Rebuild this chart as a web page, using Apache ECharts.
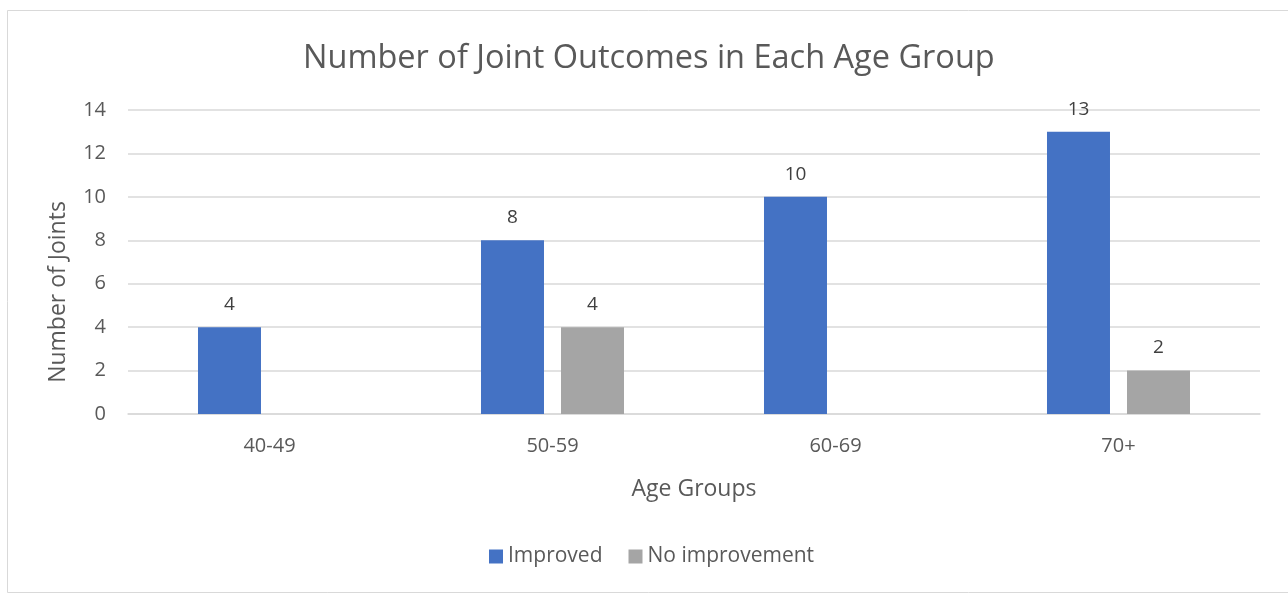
<!DOCTYPE html>
<html>
<head>
<meta charset="utf-8">
<script src="https://cdn.jsdelivr.net/npm/echarts@6/dist/echarts.min.js"></script>
<style>
  html, body { margin: 0; padding: 0; background: #ffffff; }
  #chart { width: 1288px; height: 594px; }
</style>
</head>
<body>
<div id="chart"></div>
<script>
// Age groups on the category axis
const ageGroups = ['40-49', '50-59', '60-69', '70+'];
// Joint counts per outcome (null where there is no bar)
const improved = [4, 8, 10, 13];
const noImprovement = [null, 4, null, 2];
// Value axis range
const yMin = 0, yMax = 14, yStep = 2;

const FONT = '"Open Sans", "Noto Sans", sans-serif';
const TEXT = '#595959';

const chart = echarts.init(document.getElementById('chart'), null, { renderer: 'canvas' });

chart.setOption({
  backgroundColor: '#ffffff',
  animation: false,
  title: {
    text: 'Number of Joint Outcomes in Each Age Group',
    left: 298,
    top: 37,
    textStyle: { fontFamily: FONT, fontSize: 32.5, fontWeight: 'normal', color: TEXT }
  },
  graphic: [{
    type: 'rect',
    silent: true,
    shape: { x: 7.5, y: 10.5, width: 1300, height: 582 },
    style: { fill: 'none', stroke: '#d9d9d9', lineWidth: 1 }
  }],
  legend: {
    bottom: 22,
    left: 484,
    itemWidth: 14,
    itemHeight: 14,
    itemGap: 26,
    icon: 'rect',
    textStyle: { fontFamily: FONT, fontSize: 21, color: TEXT },
    data: ['Improved', 'No improvement']
  },
  grid: { left: 128, right: 28, top: 110, bottom: 180 },
  xAxis: {
    type: 'category',
    data: ageGroups,
    name: 'Age Groups',
    nameLocation: 'middle',
    nameGap: 64,
    nameTextStyle: { fontFamily: FONT, fontSize: 23, color: TEXT },
    axisLine: { lineStyle: { color: '#d9d9d9', width: 1.5 } },
    axisTick: { show: false },
    axisLabel: { fontFamily: FONT, fontSize: 20, color: TEXT, margin: 22 }
  },
  yAxis: {
    type: 'value',
    min: yMin,
    max: yMax,
    interval: yStep,
    name: 'Number of Joints',
    nameLocation: 'middle',
    nameGap: 58,
    nameRotate: 90,
    nameTextStyle: { fontFamily: FONT, fontSize: 23, color: TEXT, padding: [0, 60, 0, 0] },
    axisLine: { show: false },
    axisTick: { show: false },
    axisLabel: { fontFamily: FONT, fontSize: 20, color: TEXT, margin: 22 },
    splitLine: { lineStyle: { color: '#d9d9d9', width: 1.5 } }
  },
  series: [
    {
      name: 'Improved',
      type: 'bar',
      data: improved,
      barWidth: 63,
      barGap: '27%',
      itemStyle: { color: '#4472c4' },
      label: {
        show: true,
        position: 'top',
        distance: 13,
        fontFamily: FONT,
        fontSize: 19,
        color: '#404040'
      }
    },
    {
      name: 'No improvement',
      type: 'bar',
      data: noImprovement,
      barWidth: 63,
      barGap: '27%',
      itemStyle: { color: '#a5a5a5' },
      label: {
        show: true,
        position: 'top',
        distance: 13,
        fontFamily: FONT,
        fontSize: 19,
        color: '#404040'
      }
    }
  ]
});
</script>
</body>
</html>
